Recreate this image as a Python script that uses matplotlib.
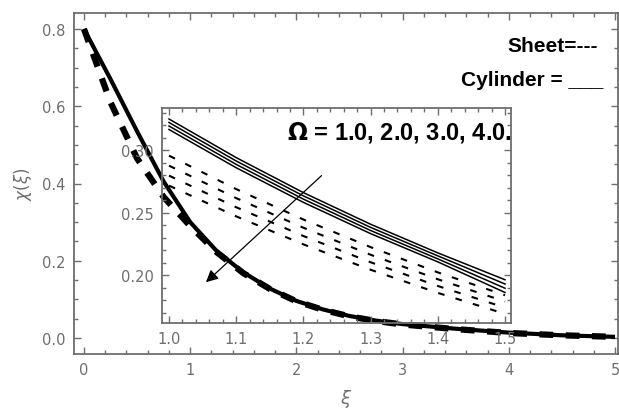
import matplotlib.pyplot as plt
from matplotlib.ticker import MultipleLocator

# main plot data
xi_main = [0, 0.25, 0.5, 0.75, 1.0, 1.25, 1.5, 1.75, 2.0, 2.25, 2.5, 2.75, 3.0, 3.5, 4.0, 4.5, 5.0]
cyl_main = [0.80, 0.67, 0.535, 0.405, 0.30, 0.225, 0.17, 0.128, 0.096, 0.074, 0.057, 0.045, 0.036, 0.024, 0.014, 0.007, 0.003]
sheet_main = [0.80, 0.61, 0.465, 0.365, 0.29, 0.222, 0.168, 0.127, 0.095, 0.073, 0.056, 0.044, 0.035, 0.023, 0.013, 0.007, 0.003]

# inset data, Omega = 1, 2, 3, 4
xi_inset = [1.0, 1.1, 1.2, 1.3, 1.4, 1.5]
cyl_inset = [
    [0.3248, 0.2939, 0.2659, 0.2406, 0.2177, 0.1962],
    [0.3220, 0.2912, 0.2633, 0.2381, 0.2153, 0.1928],
    [0.3192, 0.2885, 0.2607, 0.2356, 0.2129, 0.1894],
    [0.3164, 0.2858, 0.2581, 0.2331, 0.2105, 0.1860],
]
sheet_inset = [
    [0.2955, 0.2687, 0.2444, 0.2223, 0.2021, 0.1838],
    [0.2875, 0.2615, 0.2378, 0.2162, 0.1966, 0.1788],
    [0.2795, 0.2542, 0.2312, 0.2102, 0.1912, 0.1739],
    [0.2715, 0.2469, 0.2245, 0.2042, 0.1857, 0.1689],
]

gray = '#6e6e6e'

fig = plt.figure(figsize=(6.19, 4.14), dpi=100)
ax = fig.add_axes([74/619, 1-355/414, 544/619, 341/414])

ax.plot(xi_main, cyl_main, color='black', lw=3.0, solid_capstyle='butt')
ax.plot(xi_main, sheet_main, color='black', lw=4.5, dashes=(2.2, 2.0))

ax.set_xlim(-0.094, 5.028)
ax.set_ylim(-0.0414, 0.8414)
ax.xaxis.set_major_locator(MultipleLocator(1))
ax.xaxis.set_minor_locator(MultipleLocator(0.2))
ax.yaxis.set_major_locator(MultipleLocator(0.2))
ax.yaxis.set_minor_locator(MultipleLocator(0.05))
ax.xaxis.set_major_formatter(plt.FuncFormatter(lambda v, p: '%d' % v))
ax.yaxis.set_major_formatter(plt.FuncFormatter(lambda v, p: '%.1f' % v))
ax.tick_params(which='both', direction='in', top=True, right=True, color=gray,
               labelcolor=gray, labelsize=10.5, width=1)
ax.tick_params(which='major', length=5, pad=6)
ax.tick_params(which='minor', length=3)
for s in ax.spines.values():
    s.set_color(gray)
    s.set_linewidth(1.3)

ax.set_xlabel(r'$\xi$', color=gray, fontsize=13, labelpad=7)
ax.set_ylabel(r'$\chi(\xi)$', color=gray, fontsize=12, labelpad=6)

fig.text(598/619, 1-47/414, 'Sheet=---', ha='right', va='center',
         fontsize=15, fontweight='bold', family='Liberation Sans')
fig.text(603/619, 1-80/414, 'Cylinder = ___', ha='right', va='center',
         fontsize=15, fontweight='bold', family='Liberation Sans')

# inset
axi = fig.add_axes([162/619, 1-324/414, 349/619, 215/414])
axi.set_facecolor('none')
for ys in cyl_inset:
    axi.plot(xi_inset, ys, color='black', lw=1.1)
for ys in sheet_inset:
    axi.plot(xi_inset, ys, color='black', lw=1.5, dashes=(3.2, 5.5))

axi.set_xlim(0.9896, 1.5089)
axi.set_ylim(0.1616, 0.3336)
axi.xaxis.set_major_locator(MultipleLocator(0.1))
axi.xaxis.set_minor_locator(MultipleLocator(0.02))
axi.yaxis.set_major_locator(MultipleLocator(0.05))
axi.yaxis.set_minor_locator(MultipleLocator(0.01))
axi.xaxis.set_major_formatter(plt.FuncFormatter(lambda v, p: '%.1f' % v))
axi.yaxis.set_major_formatter(plt.FuncFormatter(lambda v, p: '%.2f' % v))
axi.tick_params(which='both', direction='in', top=True, right=True, color=gray,
                labelcolor=gray, labelsize=10.5, width=1)
axi.tick_params(which='major', length=5, pad=6)
axi.tick_params(which='minor', length=3)
for s in axi.spines.values():
    s.set_color(gray)
    s.set_linewidth(1.3)

axi.annotate('', xy=(1.055, 0.1942), xytext=(1.227, 0.2795),
             arrowprops=dict(arrowstyle='-|>', color='black', lw=0.9,
                             mutation_scale=18, shrinkA=0, shrinkB=0))
axi.text(1.510, 0.3145, r'$\mathbf{\Omega}$ = 1.0, 2.0, 3.0, 4.0.', ha='right', va='center',
         fontsize=17, fontweight='bold', family='Liberation Sans')

fig.savefig('out.png', dpi=100)
